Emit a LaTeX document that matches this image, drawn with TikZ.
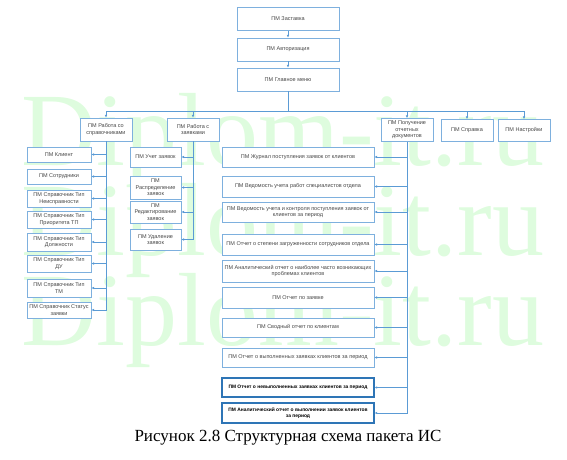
\documentclass[tikz,border=0pt]{standalone}
\usepackage{fontspec}
\setmainfont{Liberation Serif}
\newfontfamily\pmsans{Liberation Sans}
\usetikzlibrary{arrows.meta}
\definecolor{pmline}{RGB}{91,155,213}
\definecolor{pmedge}{RGB}{126,176,222}
\definecolor{pmdark}{RGB}{46,117,182}
\definecolor{pmtext}{RGB}{70,70,70}
\definecolor{wmark}{RGB}{222,252,222}
\begin{document}
\begin{tikzpicture}[x=1pt,y=-1pt,
  pm/.style={draw=pmedge,line width=0.9pt,fill=white,align=center,inner sep=0pt,text=pmtext,font=\pmsans\fontsize{5.5}{6.4}\selectfont},
  pmb/.style={pm,draw=pmdark,line width=1.1pt,text=black,font=\pmsans\bfseries\fontsize{4.9}{6.2}\selectfont},
  link/.style={draw=pmline,line width=0.9pt,-{Latex[length=2.6pt,width=2.6pt]}},
  bus/.style={draw=pmline,line width=0.9pt},
  wm/.style={anchor=base west,inner sep=0pt,text=wmark,font=\fontsize{104}{104}\selectfont}]
\useasboundingbox (0,0) rectangle (567,460);
\node[wm] (wm1) at (21,165) {Diplom-it.ru};
\node[wm] (wm2) at (21,255) {Diplom-it.ru};
\node[wm] (wm3) at (21,345) {Diplom-it.ru};

\node[pm,minimum width=102pt,minimum height=23pt] (zast) at (288,19) {ПМ Заставка};
\node[pm,minimum width=102pt,minimum height=23pt] (avt) at (288,49.5) {ПМ Авторизация};
\node[pm,minimum width=102pt,minimum height=23pt] (menu) at (288,79.5) {ПМ Главное меню};
\draw[link] (zast) -- (avt);
\draw[link] (avt) -- (menu);
\coordinate (hub) at (288,111);

\node[pm,minimum width=52pt,minimum height=23pt] (sprav) at (106,129.5) {ПМ Работа со\\справочниками};
\node[pm,minimum width=52pt,minimum height=23pt] (zayav) at (193,129.5) {ПМ Работа с\\заявками};
\node[pm,minimum width=52pt,minimum height=23pt] (otch) at (407,130) {ПМ Получение\\отчетных\\документов};
\node[pm,minimum width=52pt,minimum height=22pt] (help) at (467,130.5) {ПМ Справка};
\node[pm,minimum width=52pt,minimum height=22pt] (nastr) at (524,130.5) {ПМ Настройки};
\draw[bus] (menu) -- (hub);
\draw[bus] (sprav.north |- hub) -- (nastr.north |- hub);
\draw[link] (sprav.north |- hub) -- (sprav.north);
\draw[link] (zayav.north |- hub) -- (zayav.north);
\draw[link] (otch.north |- hub) -- (otch.north);
\draw[link] (help.north |- hub) -- (help.north);
\draw[link] (nastr.north |- hub) -- (nastr.north);

\node[pm,minimum width=64pt,minimum height=15pt] (klient) at (59,154.5) {ПМ Клиент};
\node[pm,minimum width=64pt,minimum height=15pt] (sotr) at (59,176.5) {ПМ Сотрудники};
\node[pm,minimum width=64pt,minimum height=17pt] (neispr) at (59,198.5) {ПМ Справочник Тип\\Неисправности};
\node[pm,minimum width=64pt,minimum height=17pt] (prior) at (59,219.5) {ПМ Справочник Тип\\Приоритета ТП};
\node[pm,minimum width=64pt,minimum height=18pt] (dolzh) at (59,242) {ПМ Справочник Тип\\Должности};
\node[pm,minimum width=64pt,minimum height=17pt] (du) at (59,263.5) {ПМ Справочник Тип\\ДУ};
\node[pm,minimum width=64pt,minimum height=18pt] (tm) at (59,288) {ПМ Справочник Тип\\ТМ};
\node[pm,minimum width=64pt,minimum height=16pt] (status) at (59,310) {ПМ Справочник Статус\\заявки};
\draw[link] (sprav.south) |- (status.east);
\draw[link] (sprav.south |- klient.east) -- (klient.east);
\draw[link] (sprav.south |- sotr.east) -- (sotr.east);
\draw[link] (sprav.south |- neispr.east) -- (neispr.east);
\draw[link] (sprav.south |- prior.east) -- (prior.east);
\draw[link] (sprav.south |- dolzh.east) -- (dolzh.east);
\draw[link] (sprav.south |- du.east) -- (du.east);
\draw[link] (sprav.south |- tm.east) -- (tm.east);

\node[pm,minimum width=51pt,minimum height=20pt] (uchet) at (155.5,157) {ПМ Учет заявок};
\node[pm,minimum width=51pt,minimum height=23pt] (raspr) at (155.5,187.5) {ПМ\\Распределение\\заявок};
\node[pm,minimum width=51pt,minimum height=22pt] (red) at (155.5,212) {ПМ\\Редактирование\\заявок};
\node[pm,minimum width=51pt,minimum height=21pt] (udal) at (155.5,239.5) {ПМ Удаление\\заявок};
\draw[link] (zayav.south) |- (udal.east);
\draw[link] (zayav.south |- uchet.east) -- (uchet.east);
\draw[link] (zayav.south |- raspr.east) -- (raspr.east);
\draw[link] (zayav.south |- red.east) -- (red.east);

\node[pm,minimum width=152pt,minimum height=20pt] (zhurn) at (298,157) {ПМ Журнал поступления заявок от клиентов};
\node[pm,minimum width=152pt,minimum height=21pt] (vedrab) at (298,186.5) {ПМ Ведомость учета работ специалистов отдела};
\node[pm,minimum width=152pt,minimum height=20pt] (vedkontr) at (298,212) {ПМ Ведомость учета и контроля поступления заявок от\\клиентов за период};
\node[pm,minimum width=152pt,minimum height=21pt] (zagr) at (298,244.5) {ПМ Отчет о степени загруженности сотрудников отдела};
\node[pm,minimum width=152pt,minimum height=22pt] (analprob) at (298,271) {ПМ Аналитический отчет о наиболее часто возникающих\\проблемах клиентов};
\node[pm,minimum width=152pt,minimum height=21pt] (pozay) at (298,297.5) {ПМ Отчет по заявке};
\node[pm,minimum width=152pt,minimum height=19pt] (svod) at (298,327.5) {ПМ Сводный отчет по клиентам};
\node[pm,minimum width=152pt,minimum height=19pt] (vyp) at (298,357.5) {ПМ Отчет о выполненных заявках клиентов за период};
\node[pmb,minimum width=152pt,minimum height=19pt] (nevyp) at (298,387.5) {ПМ Отчет о невыполненных заявках клиентов за период};
\node[pmb,minimum width=152pt,minimum height=20pt] (analvyp) at (298,413) {ПМ Аналитический отчет о выполнении заявок клиентов\\за период};
\draw[link] (otch.south) |- (analvyp.east);
\draw[link] (otch.south |- zhurn.east) -- (zhurn.east);
\draw[link] (otch.south |- vedrab.east) -- (vedrab.east);
\draw[link] (otch.south |- vedkontr.east) -- (vedkontr.east);
\draw[link] (otch.south |- zagr.east) -- (zagr.east);
\draw[link] (otch.south |- analprob.east) -- (analprob.east);
\draw[link] (otch.south |- pozay.east) -- (pozay.east);
\draw[link] (otch.south |- svod.east) -- (svod.east);
\draw[link] (otch.south |- vyp.east) -- (vyp.east);
\draw[link] (otch.south |- nevyp.east) -- (nevyp.east);

\node[font=\fontsize{17}{19}\selectfont,inner sep=0pt] (caption) at (288,438) {Рисунок 2.8 Структурная схема пакета ИС};
\end{tikzpicture}
\end{document}
